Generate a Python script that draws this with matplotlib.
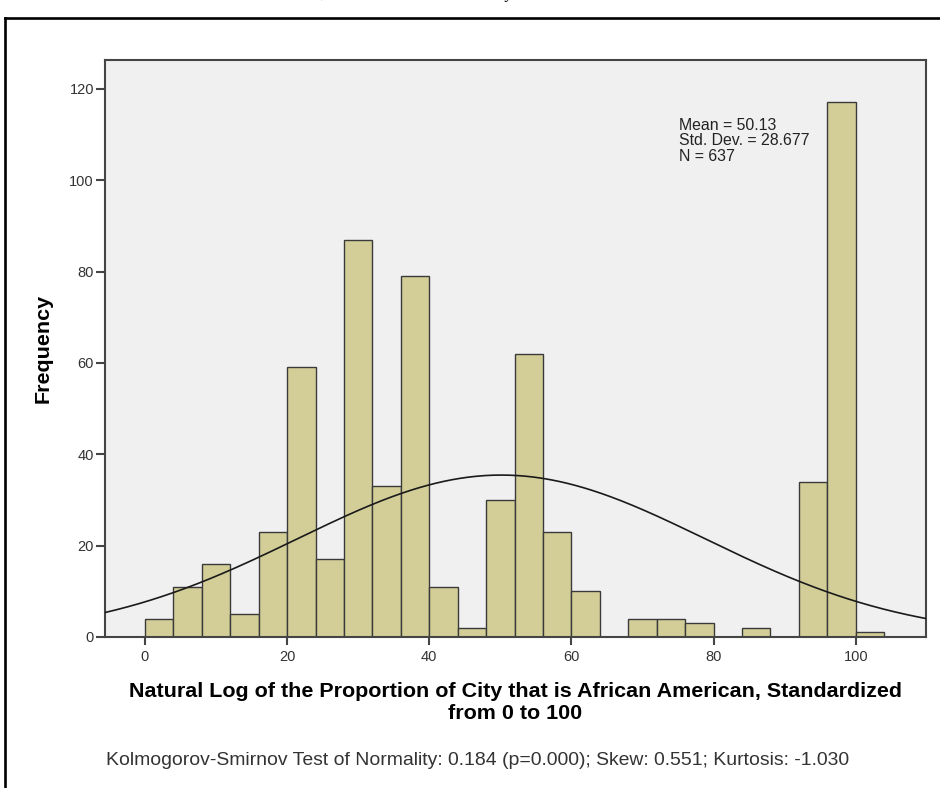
import numpy as np
import matplotlib
matplotlib.use("Agg")
import matplotlib.pyplot as plt
from matplotlib.lines import Line2D

# ---------------- data ----------------
counts = [4, 11, 16, 5, 23, 59, 17, 87, 33, 79, 11, 2, 30, 62, 23, 10,
          0, 4, 4, 3, 0, 2, 0, 34, 117, 1]
bin_start = 0
bin_width = 4
mean_val = 50.13
sd_val = 28.677
n_val = 637
x_ticks = [0, 20, 40, 60, 80, 100]
y_ticks = [0, 20, 40, 60, 80, 100, 120]
x_label = ("Natural Log of the Proportion of City that is African American, Standardized\n"
           "from 0 to 100")
y_label = "Frequency"
footnote = ("Kolmogorov-Smirnov Test of Normality: 0.184 (p=0.000); "
            "Skew: 0.551; Kurtosis: -1.030")

# ---------------- figure ----------------
W, H = 940, 788
fig = plt.figure(figsize=(W / 100, H / 100), dpi=100)
FONT = "Liberation Sans"

def fx(px):
    return px / W

def fy(py):
    return 1 - py / H

ax_l, ax_r, ax_t, ax_b = 105, 925.7, 60, 637
ax = fig.add_axes([fx(ax_l), fy(ax_b), (ax_r - ax_l) / W, (ax_b - ax_t) / H])
ax.set_facecolor("#f0f0f0")

counts_arr = np.array(counts)
edges = bin_start + bin_width * np.arange(len(counts) + 1)
mask = counts_arr > 0
ax.bar(edges[:-1][mask], counts_arr[mask], width=bin_width, align="edge",
       color="#d3ce98", edgecolor="#3a3a3a", linewidth=1.0, zorder=2)

xmin, xmax = -5.62, 109.84
ax.set_xlim(xmin, xmax)
ax.set_ylim(0, 126.3)
xs = np.linspace(xmin, xmax, 500)
ys = n_val * bin_width * np.exp(-0.5 * ((xs - mean_val) / sd_val) ** 2) / (sd_val * np.sqrt(2 * np.pi))
ax.plot(xs, ys, color="#1a1a1a", lw=1.2, zorder=3)

for s in ax.spines.values():
    s.set_color("#454545")
    s.set_linewidth(1.5)

ax.set_xticks(x_ticks)
ax.set_yticks(y_ticks)
ax.tick_params(axis="both", direction="out", color="#454545", width=1.5,
               labelcolor="#333333", labelsize=10.5)
ax.tick_params(axis="y", length=6.5, pad=1.5)
ax.tick_params(axis="x", length=5.8, pad=3.5)
for lab in ax.get_xticklabels() + ax.get_yticklabels():
    lab.set_fontfamily(FONT)

renderer = fig.canvas.get_renderer()

def fit_size(text, target_px, **kw):
    t = fig.text(0, 0, text, fontsize=10, **kw)
    w = t.get_window_extent(renderer=renderer).width
    t.remove()
    return 10 * target_px / w

# x-axis title (two lines, one text); anchor = baseline of the last line
line1 = x_label.split("\n")[0]
xl_size = fit_size(line1, 770, fontfamily=FONT, fontweight="bold")
cx = (ax_l + ax_r) / 2
fig.text(fx(cx), fy(719), x_label, ha="center", va="baseline", multialignment="center",
         linespacing=1.21, fontfamily=FONT, fontweight="bold", fontsize=xl_size,
         color="#000000")

# y-axis title
fig.text(fx(43), fy((ax_t + ax_b) / 2), y_label, rotation=90, ha="center", va="center",
         fontfamily=FONT, fontweight="bold", fontsize=xl_size, color="#000000")

# stats text
stats_lines = [f"Mean = {mean_val:.2f}", f"Std. Dev. = {sd_val:.3f}", f"N = {n_val}"]
st_size = fit_size(stats_lines[1], 131, fontfamily=FONT)
for i, s in enumerate(stats_lines):
    fig.text(fx(679), fy(129.6 + 15.5 * i), s, ha="left", va="baseline",
             fontfamily=FONT, fontsize=st_size, color="#222222")

# footnote
fn_size = fit_size(footnote, 742, fontfamily=FONT)
fig.text(fx(106), fy(765), footnote, ha="left", va="baseline",
         fontfamily=FONT, fontsize=fn_size, color="#333333")

# frame of the cropped screenshot
fig.add_artist(Line2D([fx(5), fx(5)], [0, fy(18)], color="black", lw=1.9,
                      transform=fig.transFigure, solid_capstyle="projecting"))
fig.add_artist(Line2D([fx(5), 1], [fy(18), fy(18)], color="black", lw=1.9,
                      transform=fig.transFigure, solid_capstyle="projecting"))

# descender fragments of a cropped caption line above the frame
fig.text(fx(320), fy(-2), ",", ha="left", va="baseline", fontfamily="Liberation Serif",
         style="italic", fontsize=12)
fig.text(fx(505), fy(-2), "y", ha="left", va="baseline", fontfamily="Liberation Serif",
         style="italic", fontsize=12)

fig.savefig("out.png", dpi=100)
